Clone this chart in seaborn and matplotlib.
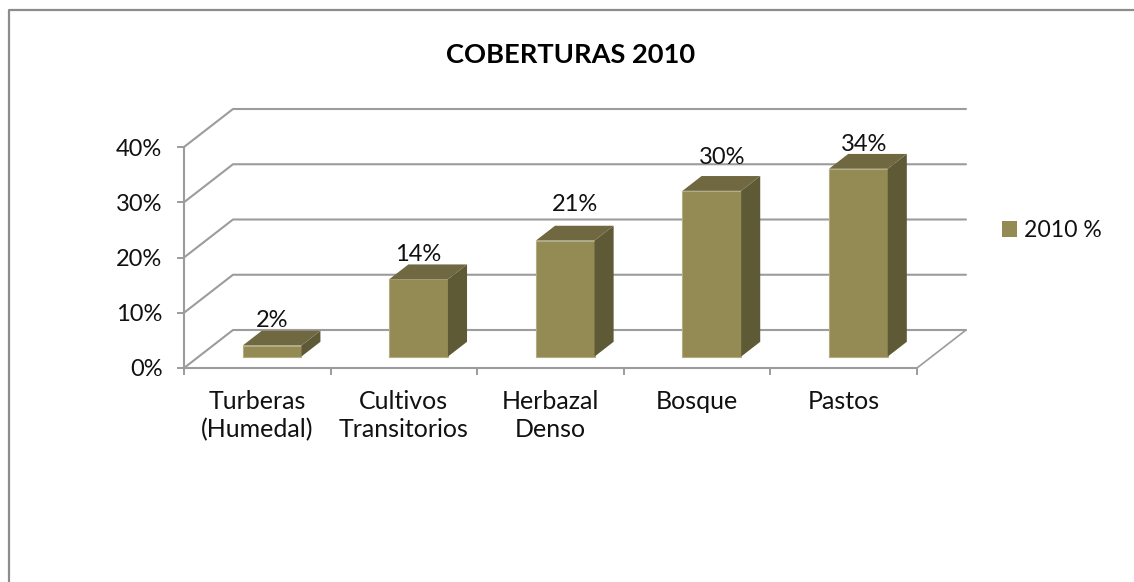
#coberturas 2010, fake 3D columns
import matplotlib
matplotlib.use("Agg")
import matplotlib.pyplot as plt
import pandas as pd
import seaborn as sns
from matplotlib.lines import Line2D
from matplotlib.patches import Patch, Polygon
from matplotlib.transforms import Affine2D, IdentityTransform

categories = ["Turberas\n(Humedal)", "Cultivos\nTransitorios", "Herbazal\nDenso", "Bosque", "Pastos"]
values = [2, 14, 21, 30, 34]
y_ticks = [0, 10, 20, 30, 40]
series_name = "2010 %"
title = "COBERTURAS 2010"

W, H = 1134, 582
FRONT = "#948A54"
SIDE = "#5F5A36"
TOP = "#6F6840"
GRID = "#9C9C9C"
# how far the back wall sits from the front plane, in pixels
DX, DY = 49, 38

sns.set_style("white")
plt.rcParams["font.family"] = ["Lato", "DejaVu Sans"]

fig = plt.figure(figsize=(W / 100, H / 100), dpi=100)
ax = fig.add_axes([184 / W, 1 - 368 / H, 733 / W, 221 / H])
df = pd.DataFrame({"cobertura": categories, "pct": values})
sns.barplot(data=df, x="cobertura", y="pct", color=FRONT, saturation=1, width=0.4,
            ax=ax, zorder=3, linewidth=0.8, edgecolor="#B5AD82")
ax.set_xlim(-0.5, len(categories) - 0.5)
ax.set_ylim(0, 40)
ax.set_xlabel("")
ax.set_ylabel("")
ax.set_yticks(y_ticks)
ax.set_yticklabels([str(v) + "%" for v in y_ticks], fontsize=17, color="#111111")
ax.set_xticks(range(len(categories)))
ax.set_xticklabels(categories, fontsize=18, color="#111111", linespacing=1.24)
ax.set_xticks([i - 0.5 for i in range(len(categories) + 1)], minor=True)
ax.tick_params(axis="x", which="major", length=0, pad=16)
ax.tick_params(axis="x", which="minor", length=5, width=1.4, color=GRID, bottom=True)
ax.tick_params(axis="y", length=5, width=1.4, color=GRID, pad=10.5, left=True)
for s in ["top", "right"]:
    ax.spines[s].set_visible(False)
for s in ["left", "bottom"]:
    ax.spines[s].set_color(GRID)
    ax.spines[s].set_linewidth(1.5)
ax.patch.set_alpha(0)
fig.canvas.draw()


def proj(x, v, d=0.0):
    # data position pushed back by d (0 front plane, 1 back wall), display pixels
    px, py = ax.transData.transform((x, v))
    return px + d * DX, py + d * DY


pixels = IdentityTransform()
x0, x1 = ax.get_xlim()
# walls and floor
for v in y_ticks:
    a = proj(x0, v)
    b = proj(x0, v, 1)
    c = proj(x1, v, 1)
    ax.add_line(Line2D([a[0], b[0], c[0]], [a[1], b[1], c[1]], transform=pixels,
                       color=GRID, lw=1.5, clip_on=False, zorder=1))
a = proj(x1, 0)
b = proj(x1, 0, 1)
ax.add_line(Line2D([a[0], b[0]], [a[1], b[1]], transform=pixels, color=GRID, lw=1.2,
                   clip_on=False, zorder=1))

# columns start 0.3 into the floor and are 0.39 deep
D0, D1 = 0.3, 0.69
shift = Affine2D().translate(D0 * DX, D0 * DY)
label_dx = [0, 0, 10, 10, 6]
label_dy = [4, 3, 15, 12, 3]
for i, bar in enumerate(ax.patches):
    bar.set_transform(ax.transData + shift)
    bar.set_clip_on(False)
    xa, xb = bar.get_x(), bar.get_x() + bar.get_width()
    v = bar.get_height()
    side = [proj(xb, 0, D0), proj(xb, 0, D1), proj(xb, v, D1), proj(xb, v, D0)]
    top = [proj(xa, v, D0), proj(xb, v, D0), proj(xb, v, D1), proj(xa, v, D1)]
    ax.add_patch(Polygon(side, closed=True, transform=pixels, facecolor=SIDE, edgecolor="none",
                         clip_on=False, zorder=3))
    ax.add_patch(Polygon(top, closed=True, transform=pixels, facecolor=TOP, edgecolor="none",
                         clip_on=False, zorder=3))
    lx, ly = proj((xa + xb) / 2, v, D1)
    ax.text(lx - (D1 - D0) * DX + label_dx[i], ly + label_dy[i], str(values[i]) + "%", transform=pixels,
            ha="center", va="baseline", fontsize=17, color="#111111", zorder=4)

fig.text(571 / W, 1 - 55 / H, title, ha="center", va="center", fontsize=19.6, fontweight="bold", color="black")
fig.legend(handles=[Patch(facecolor=FRONT, edgecolor="none", label=series_name)], loc="center left",
           bbox_to_anchor=(1002 / W, 1 - 230.5 / H), frameon=False, fontsize=16.6, handlelength=0.65,
           handleheight=0.65, handletextpad=0.3, labelcolor="#111111", borderpad=0, borderaxespad=0)

# chart frame: only the left and top edges are in the picture
fig.add_artist(Line2D([8.5 / W, 8.5 / W, 1], [0, 1 - 10 / H, 1 - 10 / H], transform=fig.transFigure,
                      color="#8C8C8C", lw=1.6))

fig.savefig("out.png", dpi=100, facecolor="white")
